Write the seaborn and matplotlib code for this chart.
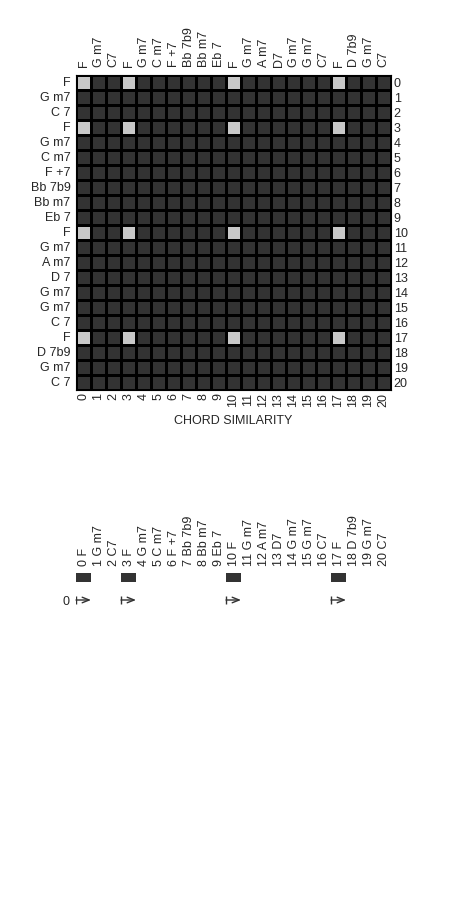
import numpy as np
import matplotlib
matplotlib.use("Agg")
import matplotlib.pyplot as plt
import seaborn as sns
from matplotlib.colors import ListedColormap

chords = ["F", "G m7", "C 7", "F", "G m7", "C m7", "F +7", "Bb 7b9", "Bb m7", "Eb 7",
          "F", "G m7", "A m7", "D 7", "G m7", "G m7", "C 7", "F", "D 7b9", "G m7", "C 7"]
top_labels = ["F", "G m7", "C7", "F", "G m7", "C m7", "F +7", "Bb 7b9", "Bb m7", "Eb 7",
              "F", "G m7", "A m7", "D7", "G m7", "G m7", "C7", "F", "D 7b9", "G m7", "C7"]
bottom_labels = ["0 F", "1 G m7", "2 C7", "3 F", "4 G m7", "5 C m7", "6 F +7", "7 Bb 7b9",
                 "8 Bb m7", "9 Eb 7", "10 F", "11 G m7", "12 A m7", "13 D7", "14 G m7",
                 "15 G m7", "16 C7", "17 F", "18 D 7b9", "19 G m7", "20 C7"]
# similarity: 1 where the two chords are both F
is_f = [1, 0, 0, 1, 0, 0, 0, 0, 0, 0, 1, 0, 0, 0, 0, 0, 0, 1, 0, 0, 0]
repeat_starts = [0, 3, 10, 17]
repeat_len = 1

sns.set_style("white")
plt.rcParams['font.family'] = ['Liberation Sans', 'DejaVu Sans']
plt.rcParams['font.size'] = 9

W, H = 465, 922
fig = plt.figure(figsize=(W / 100, H / 100), dpi=100)

def box(x0, y0, x1, y1):
    return [x0 / W, 1 - y1 / H, (x1 - x0) / W, (y1 - y0) / H]

n = len(chords)
f = np.array(is_f)
sim = np.outer(f, f)

ax = fig.add_axes(box(76, 75, 391, 390))
sns.heatmap(sim, ax=ax, cmap=ListedColormap(["#333333", "#c8c8c8"]), cbar=False,
            linewidths=1, linecolor="black", square=False)
ax.set_xticks(np.arange(n) + 0.5)
ax.set_xticklabels([str(i) for i in range(n)], rotation=90)
ax.set_yticks(np.arange(n) + 0.5)
ax.set_yticklabels(chords, rotation=0)
ax.tick_params(axis="x", length=0, pad=2)
ax.tick_params(axis="y", length=0, pad=4)
ax.set_xlabel("CHORD SIMILARITY", labelpad=6)
ax2 = ax.secondary_xaxis("top")
ax2.set_xticks(np.arange(n) + 0.5)
ax2.set_xticklabels(top_labels, rotation=90)
ax2.tick_params(length=0, pad=6)
ay2 = ax.secondary_yaxis("right")
ay2.set_yticks(np.arange(n) + 0.5)
ay2.set_yticklabels([str(i) for i in range(n)])
ay2.tick_params(length=0, pad=2)
for s in ax.spines.values():
    s.set_visible(True)
    s.set_color("black")
    s.set_linewidth(0.8)
for s in list(ax2.spines.values()) + list(ay2.spines.values()):
    s.set_visible(False)

# repeated sections
bars = np.zeros((1, n))
for s0 in repeat_starts:
    bars[0, s0:s0 + repeat_len] = 1
bx = fig.add_axes(box(76, 573, 391, 582))
sns.heatmap(bars, ax=bx, mask=bars == 0, cmap=ListedColormap(["#333333"]), cbar=False)
bx.xaxis.tick_top()
bx.set_xticks(np.arange(n) + 0.5)
bx.set_xticklabels(bottom_labels, rotation=90)
bx.tick_params(axis="x", length=0, pad=5)
bx.set_yticks([])

arx = fig.add_axes(box(76, 592, 391, 608))
arx.set_xlim(0, n)
arx.set_ylim(0, 1)
for s0 in repeat_starts:
    arx.annotate("", xy=(s0 + repeat_len, 0.5), xytext=(s0, 0.5),
                 arrowprops=dict(arrowstyle="->,head_length=0.5,head_width=0.2",
                                 color="#333333", lw=1,
                                 shrinkA=0, shrinkB=0, mutation_scale=10))
arx.scatter(repeat_starts, [0.5] * len(repeat_starts), marker="|", s=40,
            color="#333333", linewidths=1)
arx.set_yticks([0.5])
arx.set_yticklabels(["0"])
arx.set_xticks([])
arx.tick_params(length=0, pad=5)
for s in arx.spines.values():
    s.set_visible(False)

fig.savefig("out.png", dpi=100)
